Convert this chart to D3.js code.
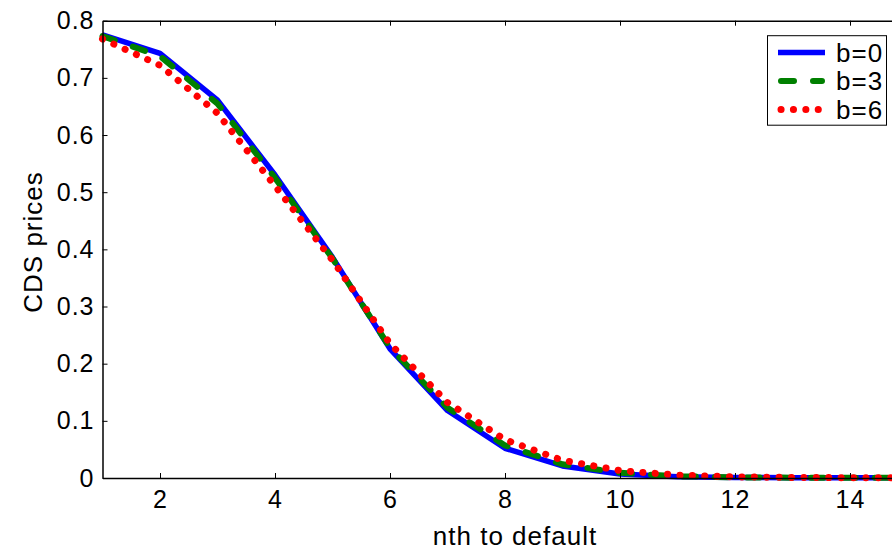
<!DOCTYPE html>
<html>
<head>
<meta charset="utf-8">
<script src="https://cdn.jsdelivr.net/npm/d3@7"></script>
<style>
  body { margin: 0; background: #fff; overflow: hidden; }
  svg { display: block; font-family: "Liberation Sans", Arial, sans-serif; }
</style>
</head>
<body>
<div id="chart"></div>
<script>
// nth to default
const nth = [1, 2, 3, 4, 5, 6, 7, 8, 9, 10, 11, 12, 13, 14, 15];

// CDS prices for each b
const b0 = [0.775, 0.743, 0.661, 0.530, 0.386, 0.226, 0.118, 0.052, 0.021, 0.007, 0.002, 0.001, 0.0005, 0.0003, 0.0002];
const b3 = [0.773, 0.738, 0.655, 0.525, 0.384, 0.228, 0.123, 0.057, 0.024, 0.009, 0.003, 0.0012, 0.0006, 0.0003, 0.0002];
const b6 = [0.768, 0.722, 0.638, 0.511, 0.381, 0.235, 0.132, 0.067, 0.031, 0.013, 0.005, 0.002, 0.001, 0.0005, 0.0003];

const seriesNames = ["b=0", "b=3", "b=6"];
const xTicks = [2, 4, 6, 8, 10, 12, 14];
const yTicks = [0, 0.1, 0.2, 0.3, 0.4, 0.5, 0.6, 0.7, 0.8];

const width = 892, height = 552;
const mLeft = 102.5, mTop = 20.7, mBottom = 478;

const svg = d3.select("#chart").append("svg")
    .attr("width", width)
    .attr("height", height);

const x = d3.scaleLinear().domain([1, 15]).range([mLeft, mLeft + 14 * 57.5]);
const y = d3.scaleLinear().domain([0, 0.8]).range([mBottom, mTop]);

// series styles
const styles = [
  {data: b0, color: "#0000ff", dash: null, width: 5.5, cap: "butt"},
  {data: b3, color: "#008000", dash: "13,19", width: 6, cap: "round"},
  {data: b6, color: "#ff0000", dash: "0.1,12.3", width: 7, cap: "round"}
];

const line = d3.line()
    .x((d, i) => x(nth[i]))
    .y(d => y(d));

const plot = svg.append("g");

styles.forEach(s => {
  plot.append("path")
      .datum(s.data)
      .attr("d", line)
      .attr("fill", "none")
      .attr("stroke", s.color)
      .attr("stroke-width", s.width)
      .attr("stroke-linecap", s.cap)
      .attr("stroke-linejoin", "round")
      .attr("stroke-dasharray", s.dash);
});

// axes, ticks inward like matlab
const xAxisB = d3.axisBottom(x).tickValues(xTicks).tickSizeInner(-5).tickSizeOuter(0).tickPadding(12);
const xAxisT = d3.axisTop(x).tickValues(xTicks).tickSizeInner(-5).tickSizeOuter(0).tickFormat("");
const yAxisL = d3.axisLeft(y).tickValues(yTicks).tickSizeInner(-5).tickSizeOuter(0).tickPadding(8)
    .tickFormat(d => d === 0 ? "0" : d3.format(".1f")(d));

const gx = svg.append("g").attr("transform", `translate(0,${mBottom})`).call(xAxisB);
const gxt = svg.append("g").attr("transform", `translate(0,${mTop})`).call(xAxisT);
const gy = svg.append("g").attr("transform", `translate(${mLeft},0)`).call(yAxisL);

[gx, gxt, gy].forEach(g => {
  g.attr("font-size", null).attr("font-family", null);
  g.select(".domain").attr("stroke", "#000").attr("stroke-width", 1.5);
  g.selectAll(".tick line").attr("stroke", "#000").attr("stroke-width", 1);
  g.selectAll(".tick text").attr("fill", "#000").style("font-size", "25px")
      .style("letter-spacing", "1px");
});
gx.selectAll(".tick text").attr("dy", "0.71em");

// axis labels
svg.append("text")
    .attr("x", 515)
    .attr("y", 545)
    .attr("text-anchor", "middle")
    .style("font-size", "26px")
    .style("letter-spacing", "1px")
    .text("nth to default");

svg.append("text")
    .attr("transform", "translate(42,242) rotate(-90)")
    .attr("text-anchor", "middle")
    .style("font-size", "26px")
    .style("letter-spacing", "1px")
    .text("CDS prices");

// legend
const legend = svg.append("g");
legend.append("rect")
    .attr("x", 767.5).attr("y", 35.7)
    .attr("width", 119).attr("height", 89.5)
    .attr("fill", "#fff").attr("stroke", "#000").attr("stroke-width", 1);

const legY = d3.scalePoint().domain(seriesNames).range([52.5, 109.5]);

styles.forEach((s, i) => {
  const yy = legY(seriesNames[i]);
  legend.append("line")
      .attr("x1", i === 0 ? 778 : 781).attr("x2", i === 0 ? 825 : 822)
      .attr("y1", yy).attr("y2", yy)
      .attr("stroke", s.color)
      .attr("stroke-width", s.width)
      .attr("stroke-linecap", s.cap)
      .attr("stroke-dasharray", s.dash);
  legend.append("text")
      .attr("x", 836)
      .attr("y", yy)
      .attr("dy", "0.35em")
      .style("font-size", "26px")
      .style("letter-spacing", "1px")
      .text(seriesNames[i]);
});
</script>
</body>
</html>
